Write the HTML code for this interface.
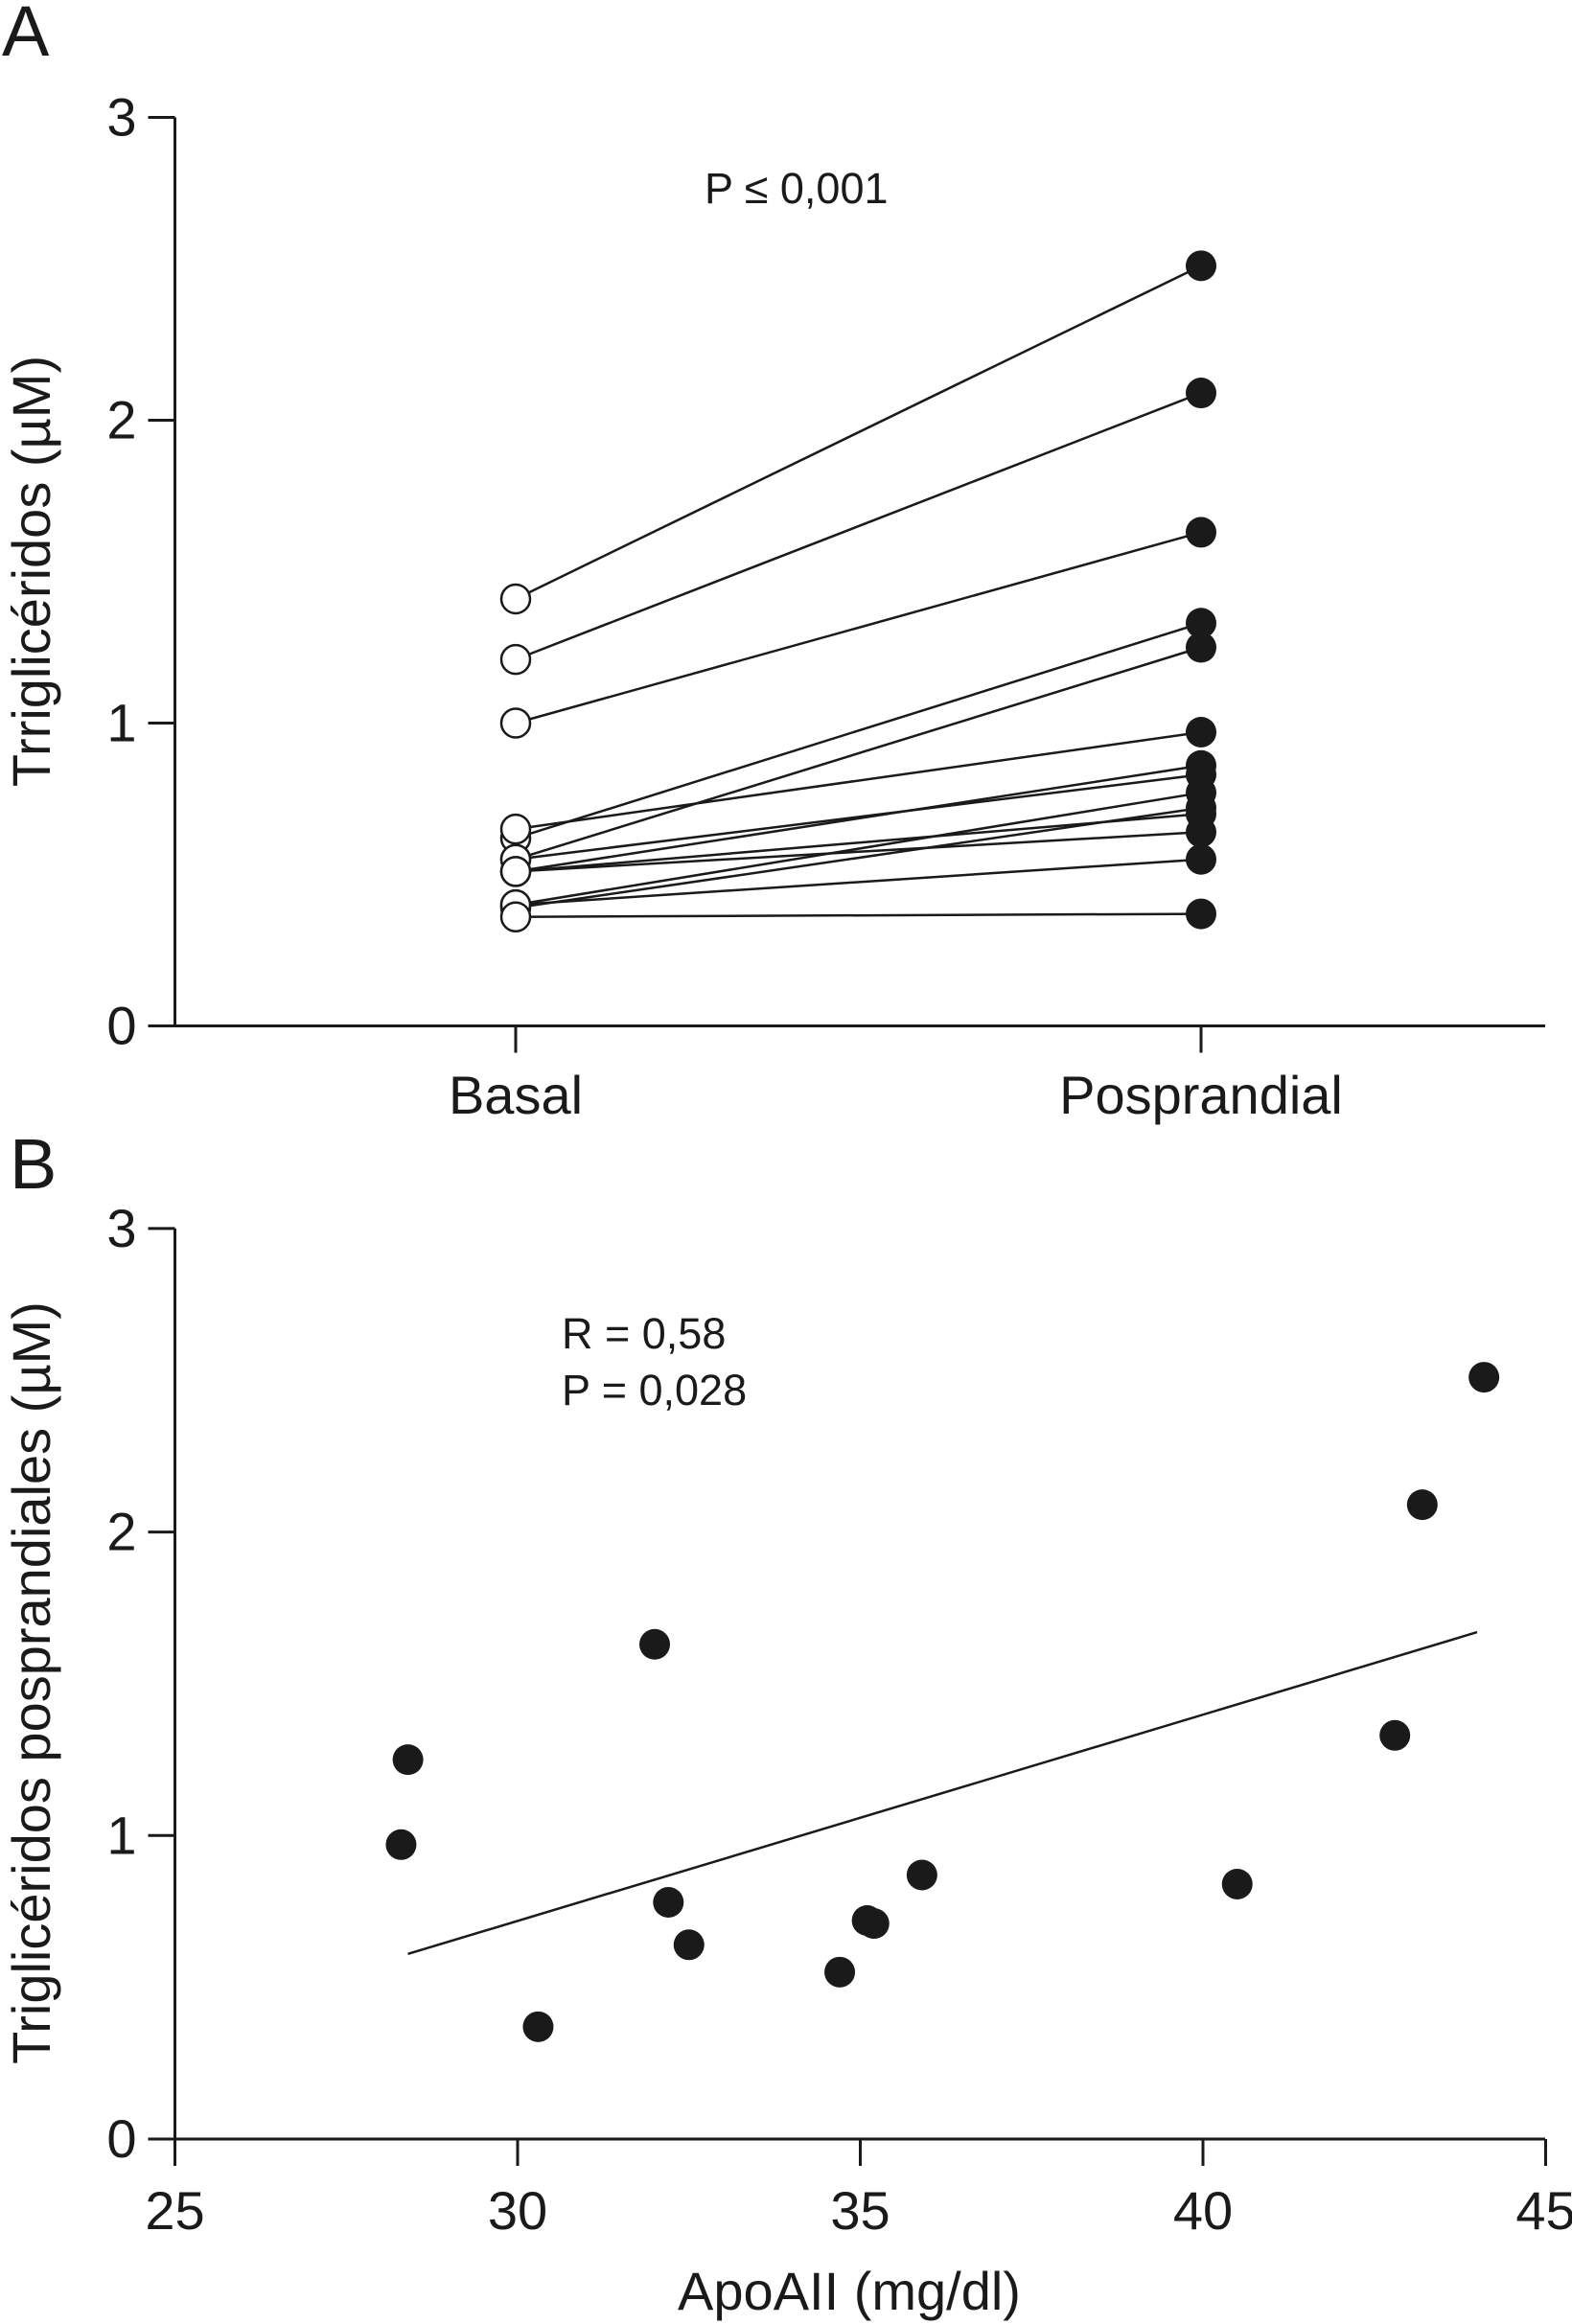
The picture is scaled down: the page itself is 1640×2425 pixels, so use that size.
<!DOCTYPE html>
<html><head><meta charset="utf-8"><style>
html,body{margin:0;padding:0;background:#fff}
svg{display:block}
text{font-family:"Liberation Sans",sans-serif;fill:#1a1a1a}
</style></head><body>
<svg width="1640" height="2425" viewBox="0 0 1640 2425">
<g id="A"></g>
<g id="B"></g>
</svg>
<script>
const basalValues=[1.41,1.21,1.00,0.62,0.55,0.65,0.51,0.55,0.40,0.39,0.51,0.51,0.40,0.36];
const postValues=[2.51,2.09,1.63,1.33,1.25,0.97,0.86,0.83,0.77,0.72,0.70,0.64,0.55,0.37];
const categories=["Basal","Posprandial"];
const yTicks=[0,1,2,3];
const apoValues=[28.4,28.3,30.3,32.0,32.2,32.5,34.7,35.1,35.2,35.9,40.5,42.8,43.2,44.1];
const tgValues=[1.25,0.97,0.37,1.63,0.78,0.64,0.55,0.72,0.71,0.87,0.84,1.33,2.09,2.51];
const xTicksB=[25,30,35,40,45];
const fitX=[28.4,44.0];
const fitY=[0.61,1.67];

const NS="http://www.w3.org/2000/svg";
function mk(parent,tag,attrs,txt){const e=document.createElementNS(NS,tag);for(const k in attrs)e.setAttribute(k,attrs[k]);if(txt!==undefined)e.textContent=txt;parent.appendChild(e);return e;}
const AX=182.5, AXEND=1612;
const yA=v=>1070.5-v*316;
const xA=i=>[538,1253][i];
const yB=v=>2232-v*316.7;
const xB=v=>182.5+(v-25)*71.5;

// Panel A
const A=document.getElementById('A');
let t=mk(A,'text',{x:2,y:58,'font-size':74});t.textContent='A';


let l=mk(A,'line',{x1:AX,y1:yA(3),x2:AX,y2:yA(0),stroke:'#1a1a1a','stroke-width':3});


l=mk(A,'line',{x1:AX,y1:yA(0),x2:AXEND,y2:yA(0),stroke:'#1a1a1a','stroke-width':3});


yTicks.forEach(v=>{
  const tk=mk(A,'line',{x1:AX-28,y1:yA(v),x2:AX,y2:yA(v),stroke:'#1a1a1a','stroke-width':3});
  
  
  const tl=mk(A,'text',{x:AX-40,y:yA(v)+19,'font-size':56,'text-anchor':'end'},String(v));
  
  
});
categories.forEach((c,i)=>{
  const tk=mk(A,'line',{x1:xA(i),y1:yA(0),x2:xA(i),y2:yA(0)+28,stroke:'#1a1a1a','stroke-width':3});
  
  
  const tl=mk(A,'text',{x:xA(i),y:1162,'font-size':56,'text-anchor':'middle'},c);
  
  
});
t=mk(A,'text',{x:52,y:596,'font-size':56,'text-anchor':'middle',transform:'rotate(-90 52 596)'},'Trriglicéridos (µM)');


t=mk(A,'text',{x:735,y:212,'font-size':45},'P ≤  0,001');


basalValues.forEach((b,i)=>{
  const ln=mk(A,'line',{x1:xA(0),y1:yA(b),x2:xA(1),y2:yA(postValues[i]),stroke:'#1a1a1a','stroke-width':2.5});
  
  
});
basalValues.forEach((b,i)=>{
  const c=mk(A,'circle',{cx:xA(0),cy:yA(b),r:15,fill:'#fff',stroke:'#1a1a1a','stroke-width':2.5});
  
  
  const d=mk(A,'circle',{cx:xA(1),cy:yA(postValues[i]),r:16,fill:'#1a1a1a'});
  
  
});

// Panel B
const B=document.getElementById('B');
t=mk(B,'text',{x:10,y:1240,'font-size':74},'B');


l=mk(B,'line',{x1:AX,y1:yB(3),x2:AX,y2:yB(0),stroke:'#1a1a1a','stroke-width':3});


l=mk(B,'line',{x1:AX,y1:yB(0),x2:AXEND,y2:yB(0),stroke:'#1a1a1a','stroke-width':3});


yTicks.forEach(v=>{
  const tk=mk(B,'line',{x1:AX-28,y1:yB(v),x2:AX,y2:yB(v),stroke:'#1a1a1a','stroke-width':3});
  
  
  const tl=mk(B,'text',{x:AX-40,y:yB(v)+19,'font-size':56,'text-anchor':'end'},String(v));
  
  
});
xTicksB.forEach(v=>{
  const tk=mk(B,'line',{x1:xB(v),y1:yB(0),x2:xB(v),y2:yB(0)+28,stroke:'#1a1a1a','stroke-width':3});
  
  
  const tl=mk(B,'text',{x:xB(v),y:2326,'font-size':56,'text-anchor':'middle'},String(v));
  
  
});
t=mk(B,'text',{x:52,y:1756,'font-size':56,'text-anchor':'middle',transform:'rotate(-90 52 1756)'},'Triglicéridos posprandiales (µM)');


t=mk(B,'text',{x:886,y:2410,'font-size':56,'text-anchor':'middle'},'ApoAII (mg/dl)');


t=mk(B,'text',{x:586,y:1407,'font-size':45},'R = 0,58');


t=mk(B,'text',{x:586,y:1466,'font-size':45},'P = 0,028');


l=mk(B,'line',{x1:xB(fitX[0]),y1:yB(fitY[0]),x2:xB(fitX[1]),y2:yB(fitY[1]),stroke:'#1a1a1a','stroke-width':2.5});


apoValues.forEach((a,i)=>{
  const d=mk(B,'circle',{cx:xB(a),cy:yB(tgValues[i]),r:16,fill:'#1a1a1a'});
  
  
});
</script>
</body></html>
